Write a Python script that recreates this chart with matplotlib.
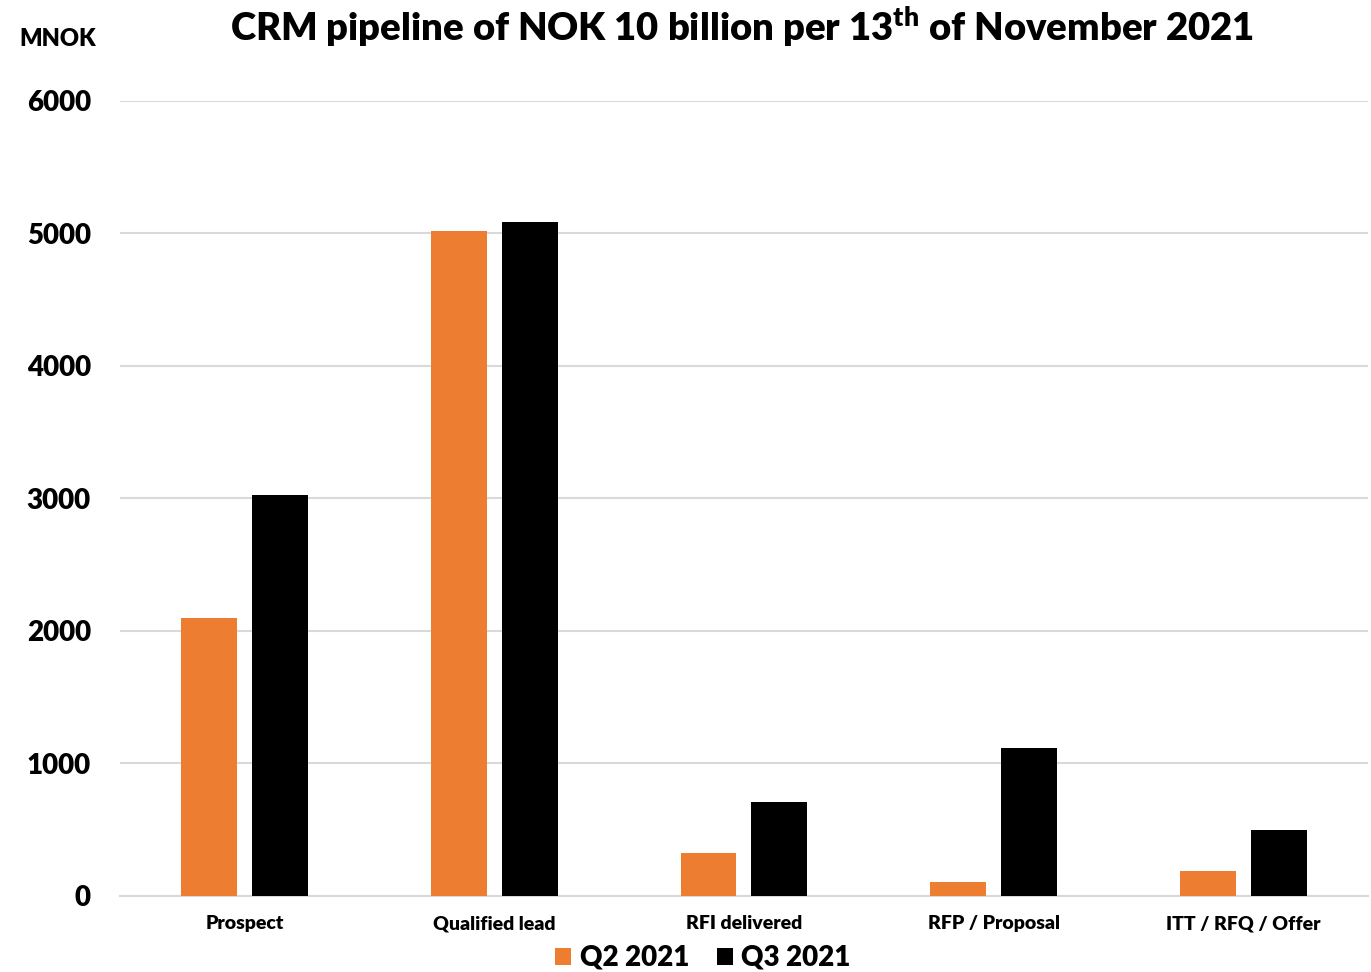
import numpy as np
import matplotlib.pyplot as plt

categories = ["Prospect", "Qualified lead", "RFI delivered", "RFP / Proposal", "ITT / RFQ / Offer"]
q2_2021 = [2100, 5020, 325, 105, 190]
q3_2021 = [3025, 5085, 710, 1115, 500]
yticks = [0, 1000, 2000, 3000, 4000, 5000, 6000]

plt.rcParams['font.family'] = ['Lato', 'DejaVu Sans']
plt.rcParams['font.weight'] = 'heavy'
plt.rcParams['mathtext.fontset'] = 'custom'
plt.rcParams['mathtext.rm'] = 'Lato:heavy'
plt.rcParams['mathtext.bf'] = 'Lato:heavy'

fig = plt.figure(figsize=(13.71, 9.72), dpi=100)
ax = fig.add_axes([0.0875, 0.0782, 0.9103, 0.8179])

x = np.arange(len(categories))
w = 0.224
ax.bar(x - 0.142, q2_2021, w, color="#ed7d31", label="Q2 2021", zorder=3)
ax.bar(x + 0.142, q3_2021, w, color="#000000", label="Q3 2021", zorder=3)

ax.set_xlim(-0.5, len(categories) - 0.5)
ax.set_ylim(0, 6000)
ax.set_yticks(yticks)
ax.set_yticklabels([str(v) for v in yticks], fontsize=20, fontweight='heavy')
ax.set_xticks(x)
ax.set_xticklabels(categories, fontsize=14, fontweight='heavy')
ax.tick_params(axis='both', length=0)
ax.tick_params(axis='y', pad=21)
ax.tick_params(axis='x', pad=14)
ax.grid(axis='y', color="#d9d9d9", linewidth=1.5, zorder=0)
for s in ["top", "right", "left"]:
    ax.spines[s].set_visible(False)
ax.spines["bottom"].set_color("#d9d9d9")
ax.spines["bottom"].set_linewidth(1.5)

fig.text(0.5415, 0.972, r"CRM pipeline of NOK 10 billion per 13$^{\mathrm{th}}$ of November 2021",
         ha='center', va='center', fontsize=27.5, fontweight='heavy')
fig.text(0.042, 0.96, "MNOK", ha='center', va='center', fontsize=17, fontweight='heavy')

ax.legend(loc='center', bbox_to_anchor=(0.467, -0.078), ncol=2, frameon=False,
          prop={'size': 20, 'weight': 'heavy'}, handlelength=0.58, handleheight=0.58,
          handletextpad=0.3, columnspacing=1.0, borderpad=0)

fig.savefig("out.png", dpi=100)
